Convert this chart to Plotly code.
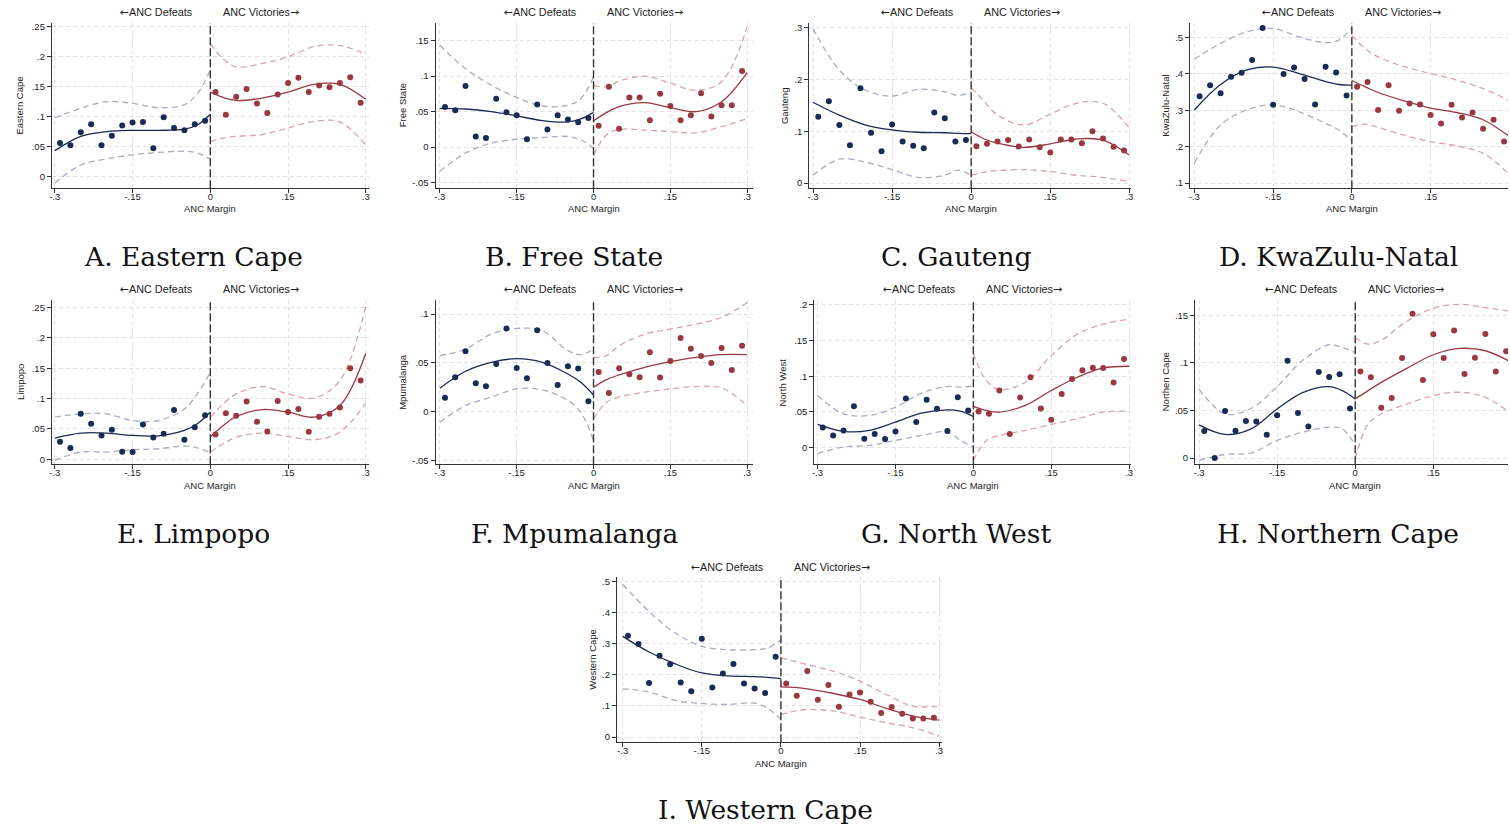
import plotly.graph_objects as go

W, H = 1510, 828

# ---------------- data ----------------
X_LEFT = [-0.29, -0.27, -0.25, -0.23, -0.21, -0.19, -0.17, -0.15, -0.13, -0.11, -0.09, -0.07, -0.05, -0.03, -0.01]
X_RIGHT = [0.01, 0.03, 0.05, 0.07, 0.09, 0.11, 0.13, 0.15, 0.17, 0.19, 0.21, 0.23, 0.25, 0.27, 0.29]
KNOT_LEFT = [-0.3, -0.25, -0.2, -0.15, -0.1, -0.05, -0.025, 0.0]
KNOT_RIGHT = [0.0, 0.025, 0.05, 0.1, 0.15, 0.2, 0.25, 0.3]

X_TICKS = [-0.3, -0.15, 0, 0.15, 0.3]
X_TICKTEXT = ["-.3", "-.15", "0", ".15", ".3"]

# A. Eastern Cape
ec_def = [0.056, 0.052, 0.074, 0.087, 0.052, 0.068, 0.085, 0.090, 0.091, 0.047, 0.099, 0.081, 0.077, 0.087, 0.093]
ec_vic = [0.141, 0.103, 0.133, 0.146, 0.122, 0.106, 0.137, 0.156, 0.165, 0.141, 0.152, 0.149, 0.156, 0.166, 0.123]
ec_fit_def = [0.043, 0.067, 0.075, 0.077, 0.077, 0.079, 0.086, 0.104]
ec_hi_def = [0.098, 0.114, 0.125, 0.122, 0.115, 0.120, 0.138, 0.178]
ec_lo_def = [-0.011, 0.019, 0.029, 0.036, 0.040, 0.042, 0.039, 0.029]
ec_fit_vic = [0.141, 0.132, 0.127, 0.131, 0.141, 0.154, 0.154, 0.129]
ec_hi_vic = [0.222, 0.196, 0.183, 0.189, 0.200, 0.217, 0.219, 0.204]
ec_lo_vic = [0.058, 0.064, 0.067, 0.070, 0.081, 0.092, 0.091, 0.052]
ec_yticks = [0, 0.05, 0.1, 0.15, 0.2, 0.25]
ec_yticktext = ["0", ".05", ".1", ".15", ".2", ".25"]

# B. Free State
fs_def = [0.0565, 0.052, 0.086, 0.015, 0.013, 0.068, 0.049, 0.045, 0.011, 0.060, 0.025, 0.045, 0.039, 0.035, 0.041]
fs_vic = [0.030, 0.085, 0.026, 0.070, 0.070, 0.038, 0.075, 0.058, 0.038, 0.045, 0.076, 0.043, 0.059, 0.059, 0.107]
fs_fit_def = [0.0547, 0.0537, 0.050, 0.044, 0.0374, 0.0355, 0.0397, 0.049]
fs_hi_def = [0.1435, 0.1107, 0.0874, 0.070, 0.0579, 0.059, 0.068, 0.099]
fs_lo_def = [-0.034, -0.0084, 0.0056, 0.0112, 0.0136, 0.015, 0.0103, -0.0014]
fs_fit_vic = [0.037, 0.0486, 0.057, 0.0626, 0.0556, 0.050, 0.064, 0.105]
fs_hi_vic = [0.087, 0.085, 0.093, 0.100, 0.090, 0.080, 0.092, 0.169]
fs_lo_vic = [-0.011, 0.017, 0.025, 0.024, 0.022, 0.020, 0.029, 0.040]
fs_yticks = [-0.05, 0, 0.05, 0.1, 0.15]
fs_yticktext = ["-.05", "0", ".05", ".1", ".15"]

# C. Gauteng
ga_def = [0.128, 0.158, 0.112, 0.073, 0.183, 0.097, 0.0615, 0.113, 0.080, 0.072, 0.067, 0.136, 0.125, 0.080, 0.083]
ga_vic = [0.071, 0.0756, 0.080, 0.083, 0.0705, 0.084, 0.069, 0.059, 0.084, 0.084, 0.077, 0.100, 0.086, 0.070, 0.063]
ga_fit_def = [0.156, 0.131, 0.112, 0.1026, 0.098, 0.097, 0.096, 0.0955]
ga_hi_def = [0.298, 0.218, 0.179, 0.168, 0.181, 0.176, 0.169, 0.176]
ga_lo_def = [0.015, 0.046, 0.040, 0.026, 0.011, 0.015, 0.025, 0.015]
ga_fit_vic = [0.099, 0.085, 0.077, 0.069, 0.0756, 0.085, 0.083, 0.054]
ga_hi_vic = [0.184, 0.157, 0.131, 0.112, 0.133, 0.154, 0.154, 0.106]
ga_lo_vic = [0.015, 0.021, 0.024, 0.026, 0.022, 0.015, 0.011, 0.003]
ga_yticks = [0, 0.1, 0.2, 0.3]
ga_yticktext = ["0", ".1", ".2", ".3"]

# D. KwaZulu-Natal
kzn_def = [0.339, 0.369, 0.347, 0.392, 0.403, 0.438, 0.526, 0.315, 0.400, 0.418, 0.386, 0.316, 0.420, 0.404, 0.341]
kzn_vic = [0.365, 0.378, 0.301, 0.369, 0.299, 0.319, 0.316, 0.287, 0.264, 0.315, 0.280, 0.294, 0.249, 0.274, 0.214]
kzn_fit_def = [0.301, 0.371, 0.411, 0.419, 0.401, 0.379, 0.371, 0.369]
kzn_hi_def = [0.441, 0.484, 0.516, 0.525, 0.502, 0.486, 0.493, 0.527]
kzn_lo_def = [0.155, 0.260, 0.301, 0.315, 0.296, 0.264, 0.246, 0.216]
kzn_fit_vic = [0.382, 0.365, 0.349, 0.326, 0.306, 0.294, 0.274, 0.228]
kzn_hi_vic = [0.506, 0.470, 0.447, 0.420, 0.401, 0.383, 0.360, 0.326]
kzn_lo_vic = [0.255, 0.262, 0.253, 0.231, 0.214, 0.202, 0.182, 0.123]
kzn_yticks = [0.1, 0.2, 0.3, 0.4, 0.5]
kzn_yticktext = [".1", ".2", ".3", ".4", ".5"]

# E. Limpopo
li_def = [0.029, 0.0186, 0.075, 0.0585, 0.0394, 0.0487, 0.0126, 0.012, 0.0574, 0.036, 0.042, 0.0815, 0.0323, 0.053, 0.0728]
li_vic = [0.041, 0.076, 0.0717, 0.0952, 0.0618, 0.046, 0.0963, 0.078, 0.083, 0.0454, 0.070, 0.075, 0.0853, 0.150, 0.130]
li_fit_def = [0.035, 0.0432, 0.0432, 0.0394, 0.0388, 0.0476, 0.0585, 0.078]
li_hi_def = [0.0695, 0.075, 0.075, 0.064, 0.064, 0.083, 0.108, 0.1433]
li_lo_def = [-0.0016, 0.012, 0.012, 0.0159, 0.0175, 0.0219, 0.019, 0.0104]
li_fit_vic = [0.0367, 0.0558, 0.0706, 0.082, 0.0777, 0.0695, 0.0886, 0.1745]
li_hi_vic = [0.0695, 0.0914, 0.1078, 0.120, 0.1078, 0.101, 0.1297, 0.2527]
li_lo_vic = [0.012, 0.0257, 0.0367, 0.0432, 0.0377, 0.0323, 0.0449, 0.0925]
li_yticks = [0, 0.05, 0.1, 0.15, 0.2, 0.25]
li_yticktext = ["0", ".05", ".1", ".15", ".2", ".25"]

# F. Mpumalanga
mp_def = [0.014, 0.0351, 0.0617, 0.029, 0.0259, 0.0488, 0.0852, 0.0447, 0.0341, 0.0835, 0.0498, 0.0273, 0.0464, 0.044, 0.0106]
mp_vic = [0.0406, 0.0191, 0.0443, 0.0382, 0.0351, 0.0607, 0.0348, 0.0518, 0.0753, 0.0644, 0.0569, 0.0498, 0.0651, 0.0426, 0.0675]
mp_fit_def = [0.0239, 0.0413, 0.0505, 0.0542, 0.0505, 0.0385, 0.030, 0.017]
mp_hi_def = [0.0573, 0.064, 0.0794, 0.0852, 0.0829, 0.0624, 0.0583, 0.0641]
mp_lo_def = [-0.0109, 0.0061, 0.0147, 0.0232, 0.0222, 0.0113, -0.0007, -0.0297]
mp_fit_vic = [0.0249, 0.0327, 0.0375, 0.0453, 0.0511, 0.0556, 0.0583, 0.0583]
mp_hi_vic = [0.0556, 0.0573, 0.0675, 0.0794, 0.0846, 0.0897, 0.0965, 0.1118]
mp_lo_vic = [-0.0075, 0.0095, 0.0147, 0.0198, 0.0232, 0.0256, 0.0242, 0.0061]
mp_yticks = [-0.05, 0, 0.05, 0.1]
mp_yticktext = ["-.05", "0", ".05", ".1"]

# G. North West
nw_def = [0.0284, 0.0172, 0.0242, 0.0581, 0.0126, 0.019, 0.0121, 0.0228, 0.0688, 0.0358, 0.067, 0.0544, 0.0233, 0.0707, 0.0521]
nw_vic = [0.0507, 0.0474, 0.080, 0.019, 0.0702, 0.0986, 0.0549, 0.039, 0.0753, 0.0963, 0.1084, 0.112, 0.1116, 0.0912, 0.1242]
nw_fit_def = [0.0326, 0.0228, 0.0242, 0.0358, 0.0484, 0.053, 0.0512, 0.0437]
nw_hi_def = [0.073, 0.0474, 0.0451, 0.0567, 0.0763, 0.0856, 0.0847, 0.0865]
nw_lo_def = [-0.0084, 0.0009, 0.0033, 0.0102, 0.0172, 0.0219, 0.0102, 0.0009]
nw_fit_vic = [0.0577, 0.0521, 0.0498, 0.0591, 0.080, 0.0986, 0.1116, 0.114]
nw_hi_vic = [0.132, 0.094, 0.0814, 0.0916, 0.1288, 0.159, 0.173, 0.180]
nw_lo_vic = [-0.0177, 0.0102, 0.0172, 0.0242, 0.0326, 0.0405, 0.0498, 0.0512]
nw_yticks = [0, 0.05, 0.1, 0.15, 0.2]
nw_yticktext = ["0", ".05", ".1", ".15", ".2"]

# H. Northern Cape
nc_def = [0.0283, 0.0, 0.0495, 0.0286, 0.039, 0.0384, 0.0244, 0.045, 0.1022, 0.0474, 0.0331, 0.0903, 0.0851, 0.0879, 0.052]
nc_vic = [0.091, 0.0848, 0.0527, 0.0631, 0.105, 0.1517, 0.082, 0.130, 0.105, 0.134, 0.0882, 0.1053, 0.1304, 0.091, 0.1123]
nc_fit_def = [0.0349, 0.0248, 0.0307, 0.0516, 0.069, 0.075, 0.0708, 0.0621]
nc_hi_def = [0.0725, 0.0464, 0.052, 0.075, 0.103, 0.119, 0.116, 0.111]
nc_lo_def = [-0.0024, 0.0038, 0.0052, 0.0185, 0.0272, 0.0324, 0.0307, 0.0133]
nc_fit_vic = [0.0621, 0.0708, 0.0795, 0.0945, 0.1085, 0.1151, 0.1127, 0.1005]
nc_hi_vic = [0.1266, 0.1196, 0.1238, 0.144, 0.1573, 0.1615, 0.158, 0.1538]
nc_lo_vic = [-0.0007, 0.0359, 0.0464, 0.0569, 0.0656, 0.0691, 0.0638, 0.0464]
nc_yticks = [0, 0.05, 0.1, 0.15]
nc_yticktext = ["0", ".05", ".1", ".15"]

# I. Western Cape
wc_def = [0.3259, 0.2991, 0.1741, 0.2618, 0.234, 0.1752, 0.1474, 0.3162, 0.1592, 0.204, 0.235, 0.172, 0.156, 0.142, 0.2585]
wc_vic = [0.172, 0.1325, 0.2126, 0.1197, 0.1677, 0.0972, 0.1368, 0.1432, 0.1132, 0.0769, 0.0962, 0.0748, 0.0598, 0.0598, 0.062]
wc_fit_def = [0.3237, 0.2735, 0.235, 0.206, 0.1966, 0.1944, 0.192, 0.188]
wc_hi_def = [0.4915, 0.4038, 0.3344, 0.2917, 0.281, 0.281, 0.2863, 0.313]
wc_lo_def = [0.1549, 0.145, 0.1175, 0.108, 0.1047, 0.109, 0.092, 0.0566]
wc_fit_vic = [0.1613, 0.160, 0.155, 0.140, 0.1207, 0.0919, 0.0673, 0.0545]
wc_hi_vic = [0.2543, 0.2436, 0.2329, 0.2115, 0.1795, 0.1368, 0.0994, 0.0994]
wc_lo_vic = [0.0726, 0.0833, 0.0887, 0.0833, 0.0641, 0.0459, 0.0299, 0.0032]
wc_yticks = [0, 0.1, 0.2, 0.3, 0.4, 0.5]
wc_yticktext = ["0", ".1", ".2", ".3", ".4", ".5"]

Y_NAMES = ["Eastern Cape", "Free State", "Gauteng", "KwaZulu-Natal", "Limpopo",
           "Mpumalanga", "North West", "Northen Cape", "Western Cape"]
TITLES = ["A. Eastern Cape", "B. Free State", "C. Gauteng", "D. KwaZulu-Natal", "E. Limpopo",
          "F. Mpumalanga", "G. North West", "H. Northern Cape", "I. Western Cape"]

# ---------------- layout (pixels) ----------------
panels = [
    dict(d=(ec_def, ec_vic, ec_fit_def, ec_hi_def, ec_lo_def, ec_fit_vic, ec_hi_vic, ec_lo_vic),
         yt=(ec_yticks, ec_yticktext), box=(49, 367, 21, 187), xr=[-0.3058, 0.3058], yr=[-0.020, 0.2567],
         ytx=17, tx=191, row=0),
    dict(d=(fs_def, fs_vic, fs_fit_def, fs_hi_def, fs_lo_def, fs_fit_vic, fs_hi_vic, fs_lo_vic),
         yt=(fs_yticks, fs_yticktext), box=(434, 752, 21, 187), xr=[-0.3084, 0.3104], yr=[-0.0579, 0.1748],
         ytx=401, tx=573, row=0),
    dict(d=(ga_def, ga_vic, ga_fit_def, ga_hi_def, ga_lo_def, ga_fit_vic, ga_hi_vic, ga_lo_vic),
         yt=(ga_yticks, ga_yticktext), box=(809, 1132, 21, 187), xr=[-0.3070, 0.3036], yr=[-0.0102, 0.309],
         ytx=784, tx=957, row=0),
    dict(d=(kzn_def, kzn_vic, kzn_fit_def, kzn_hi_def, kzn_lo_def, kzn_fit_vic, kzn_hi_vic, kzn_lo_vic),
         yt=(kzn_yticks, kzn_yticktext), box=(1191, 1510, 21, 187), xr=[-0.3082, 0.2975], yr=[0.0855, 0.5403],
         ytx=1166, tx=1340, row=0),
    dict(d=(li_def, li_vic, li_fit_def, li_hi_def, li_lo_def, li_fit_vic, li_hi_vic, li_lo_vic),
         yt=(li_yticks, li_yticktext), box=(49, 367, 299, 464), xr=[-0.3058, 0.3058], yr=[-0.0082, 0.2627],
         ytx=17, tx=191, row=1),
    dict(d=(mp_def, mp_vic, mp_fit_def, mp_hi_def, mp_lo_def, mp_fit_vic, mp_hi_vic, mp_lo_vic),
         yt=(mp_yticks, mp_yticktext), box=(434, 752, 299, 464), xr=[-0.3084, 0.3104], yr=[-0.0542, 0.1145],
         ytx=400, tx=574, row=1),
    dict(d=(nw_def, nw_vic, nw_fit_def, nw_hi_def, nw_lo_def, nw_fit_vic, nw_hi_vic, nw_lo_vic),
         yt=(nw_yticks, nw_yticktext), box=(814, 1132, 299, 464), xr=[-0.3063, 0.3040], yr=[-0.0233, 0.2069],
         ytx=782, tx=956, row=1),
    dict(d=(nc_def, nc_vic, nc_fit_def, nc_hi_def, nc_lo_def, nc_fit_vic, nc_hi_vic, nc_lo_vic),
         yt=(nc_yticks, nc_yticktext), box=(1196, 1510, 299, 464), xr=[-0.3077, 0.2935], yr=[-0.0066, 0.1661],
         ytx=1166, tx=1339, row=1),
    dict(d=(wc_def, wc_vic, wc_fit_def, wc_hi_def, wc_lo_def, wc_fit_vic, wc_hi_vic, wc_lo_vic),
         yt=(wc_yticks, wc_yticktext), box=(616, 942, 577, 743), xr=[-0.3108, 0.3051], yr=[-0.017, 0.515],
         ytx=592, tx=765, row=2),
]
ROW_TOPLABEL_Y = [11, 289, 568]
ROW_XTITLE_Y = [207, 485, 764]
ROW_CAPTION_Y = [255, 533, 810]

NAVY = "#1b2a55"
MAROON = "#993842"
NAVY_CI = "#a7adc4"
MAROON_CI = "#d9a4a8"
TXT = "#222222"
SANS = "Liberation Sans, Arial, sans-serif"
SERIF = "DejaVu Serif, Liberation Serif, serif"
ARROW = "<span style='font-family:DejaVu Sans'>{}</span>"


def px_x(p):
    return p / W


def px_y(p):
    return 1 - p / H


fig = go.Figure()
annotations = []
shapes = []
layout_axes = {}

for i, p in enumerate(panels):
    k = i + 1
    xa = "x" if k == 1 else f"x{k}"
    ya = "y" if k == 1 else f"y{k}"
    dfp, vic, fd, hd, ld, fv, hv, lv = p["d"]
    L, R, T, B = p["box"]

    for xs, ys, col in [(KNOT_LEFT, hd, NAVY_CI), (KNOT_LEFT, ld, NAVY_CI),
                        (KNOT_RIGHT, hv, MAROON_CI), (KNOT_RIGHT, lv, MAROON_CI)]:
        fig.add_trace(go.Scatter(x=xs, y=ys, mode="lines", xaxis=xa, yaxis=ya,
                                 line=dict(color=col, width=1.3, dash="6px,4px", shape="spline", smoothing=1.0),
                                 hoverinfo="skip", showlegend=False))
    fig.add_trace(go.Scatter(x=KNOT_LEFT, y=fd, mode="lines", xaxis=xa, yaxis=ya,
                             line=dict(color=NAVY, width=1.3, shape="spline", smoothing=1.0),
                             showlegend=False))
    fig.add_trace(go.Scatter(x=KNOT_RIGHT, y=fv, mode="lines", xaxis=xa, yaxis=ya,
                             line=dict(color=MAROON, width=1.3, shape="spline", smoothing=1.0),
                             showlegend=False))
    fig.add_trace(go.Scatter(x=X_LEFT, y=dfp, mode="markers", xaxis=xa, yaxis=ya,
                             marker=dict(color=NAVY, size=6, symbol="circle"), showlegend=False))
    fig.add_trace(go.Scatter(x=X_RIGHT, y=vic, mode="markers", xaxis=xa, yaxis=ya,
                             marker=dict(color=MAROON, size=6, symbol="circle"), showlegend=False))

    axis_common = dict(showline=True, linecolor="#333333", linewidth=1, mirror=False,
                       ticks="outside", ticklen=4, tickwidth=1, tickcolor="#333333",
                       showgrid=True, gridcolor="#e2e2e2", gridwidth=1, griddash="4px,3px",
                       zeroline=False, tickfont=dict(family=SANS, size=9.5, color=TXT),
                       fixedrange=True)
    layout_axes[f"xaxis{'' if k == 1 else k}"] = dict(
        axis_common, domain=[px_x(L), px_x(R)], range=p["xr"], anchor=ya,
        tickmode="array", tickvals=X_TICKS, ticktext=X_TICKTEXT, ticklabelstandoff=-5)
    layout_axes[f"yaxis{'' if k == 1 else k}"] = dict(
        axis_common, domain=[px_y(B), px_y(T)], range=p["yr"], anchor=xa,
        tickmode="array", tickvals=p["yt"][0], ticktext=p["yt"][1])

    shapes.append(dict(type="line", xref=xa, yref=f"{ya} domain", x0=0, x1=0, y0=0, y1=1,
                       line=dict(color="#333333", width=1.4, dash="8px,3px")))

    row = p["row"]
    annotations.append(dict(text=ARROW.format("←") + "ANC Defeats", xref=xa, yref="paper", x=0, xshift=-15,
                            y=px_y(ROW_TOPLABEL_Y[row]), xanchor="right", yanchor="middle",
                            showarrow=False, font=dict(family=SANS, size=10.8, color=TXT)))
    annotations.append(dict(text="ANC Victories" + ARROW.format("→"), xref=xa, yref="paper", x=0, xshift=11,
                            y=px_y(ROW_TOPLABEL_Y[row]), xanchor="left", yanchor="middle",
                            showarrow=False, font=dict(family=SANS, size=10.8, color=TXT)))
    annotations.append(dict(text="ANC Margin", xref=xa, yref="paper", x=0,
                            y=px_y(ROW_XTITLE_Y[row]), xanchor="center", yanchor="middle",
                            showarrow=False, font=dict(family=SANS, size=9.5, color=TXT)))
    annotations.append(dict(text=Y_NAMES[i], xref="paper", yref="paper", x=px_x(p["ytx"]),
                            y=px_y((T + B) / 2), xanchor="center", yanchor="middle", textangle=-90,
                            showarrow=False, font=dict(family=SANS, size=9.5, color=TXT)))
    annotations.append(dict(text=TITLES[i], xref="paper", yref="paper", x=px_x(p["tx"]),
                            y=px_y(ROW_CAPTION_Y[row]), xanchor="center", yanchor="middle",
                            showarrow=False, font=dict(family=SERIF, size=26.5, color="#111111")))

fig.update_layout(width=W, height=H, margin=dict(l=0, r=0, t=0, b=0, pad=0),
                  paper_bgcolor="white", plot_bgcolor="white", showlegend=False,
                  annotations=annotations, shapes=shapes, **layout_axes)

fig.write_html("out.html")
